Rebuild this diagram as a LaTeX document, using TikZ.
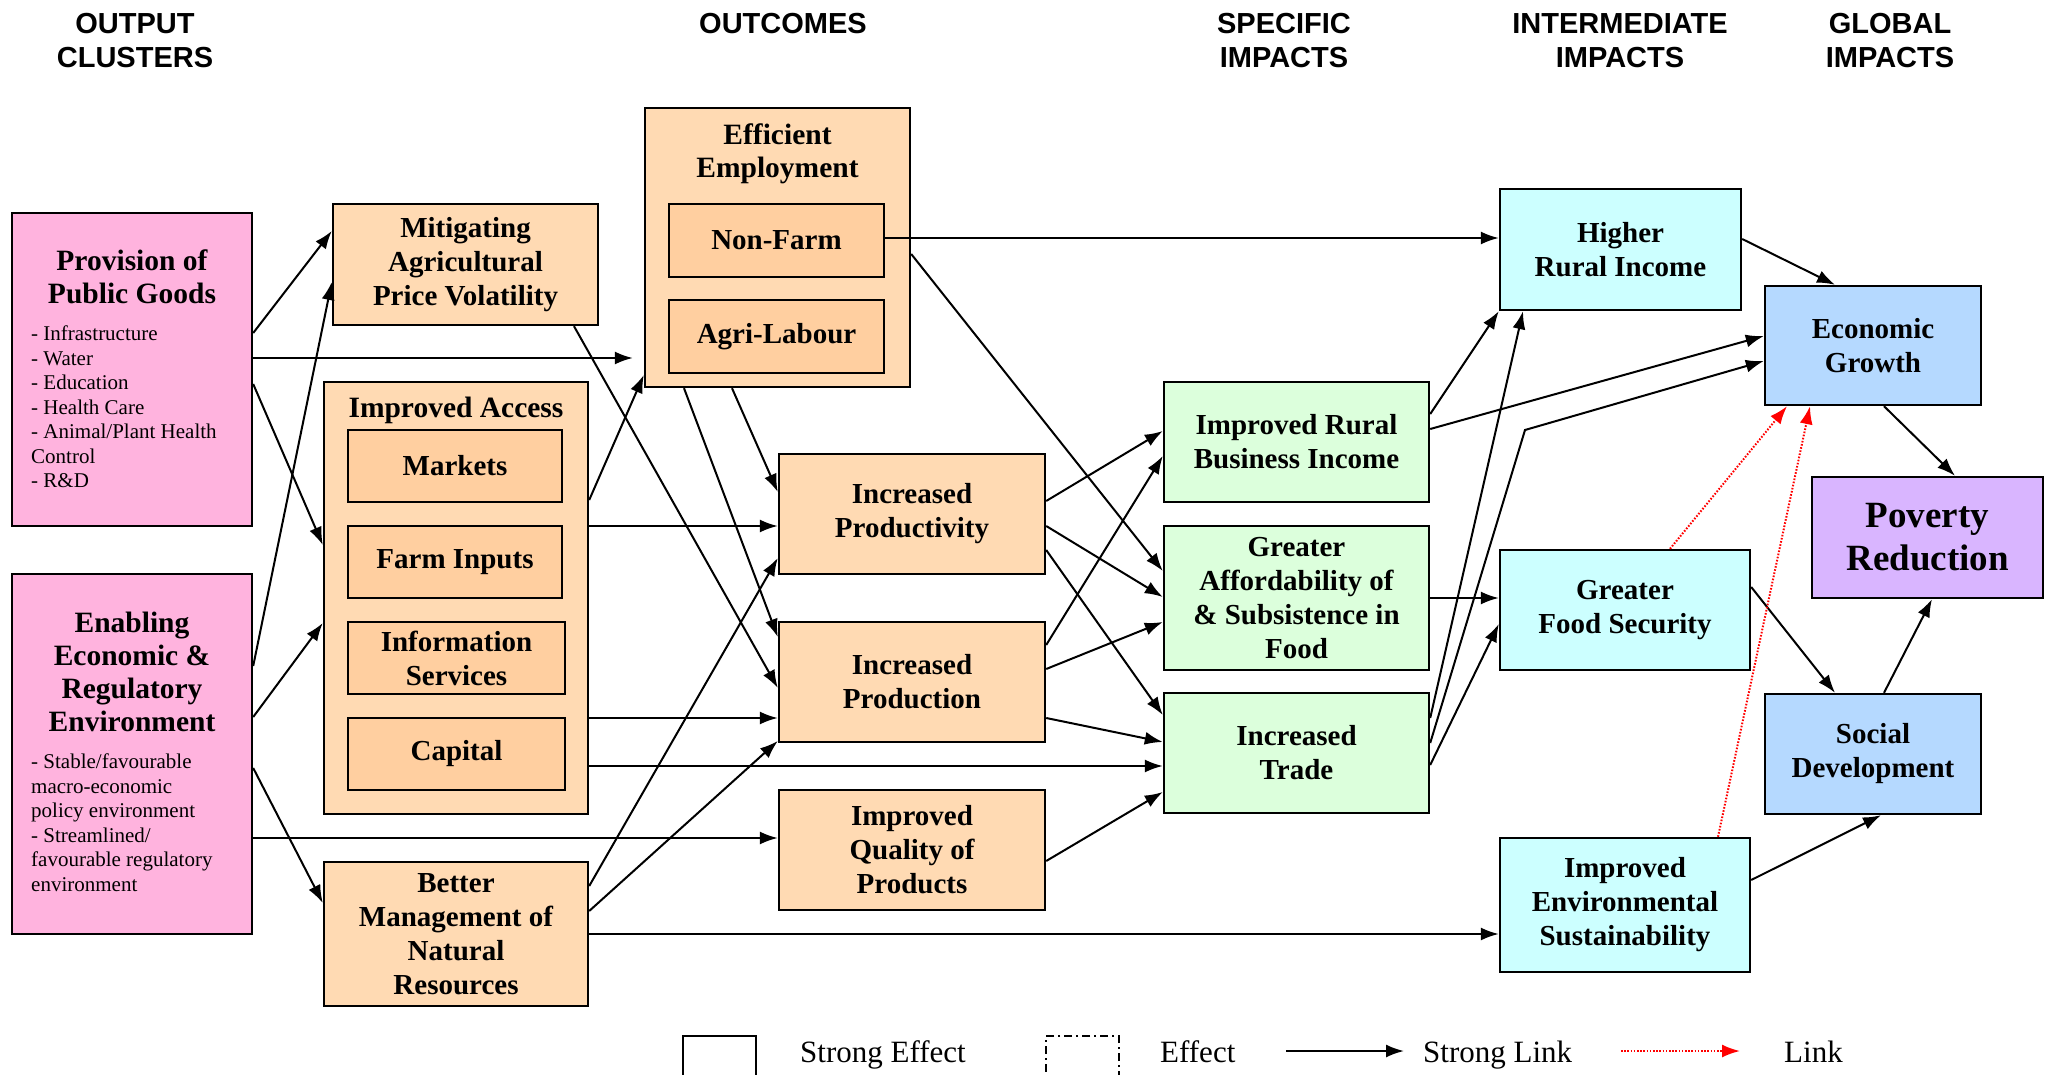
\documentclass[tikz,border=0pt]{standalone}
\usepackage{fontspec}
\setmainfont{Liberation Serif}
\newfontfamily\headfont{Liberation Sans}
\usetikzlibrary{arrows.meta}
\definecolor{pinkbox}{RGB}{255,179,222}
\definecolor{peach}{RGB}{255,218,179}
\definecolor{peachdark}{RGB}{255,207,160}
\definecolor{mint}{RGB}{220,255,220}
\definecolor{aqua}{RGB}{204,255,255}
\definecolor{skyblue}{RGB}{181,217,255}
\definecolor{lilac}{RGB}{217,181,255}

\begin{document}
\begin{tikzpicture}[x=1pt,y=-1pt,dim/.style 2 args={minimum width=#1pt,minimum height=#2pt}]
            \tikzstyle{cell}=[draw=black,line width=2.4pt,inner sep=0pt,align=center,font=\bfseries\fontsize{29}{34}\selectfont]
            \tikzstyle{boxtext}=[inner sep=0pt,align=center,font=\bfseries\fontsize{29.5}{33}\selectfont]
            \tikzstyle{listtext}=[anchor=north west,inner sep=0pt,align=left,font=\fontsize{21}{24.5}\selectfont]
            \tikzstyle{heading}=[anchor=north,inner sep=0pt,align=center,font=\headfont\bfseries\fontsize{29}{34}\selectfont]
            \tikzstyle{legendtext}=[anchor=base west,inner sep=0pt,font=\fontsize{31}{36}\selectfont]
            \tikzstyle{link}=[line width=2pt,-{Latex[length=18pt,width=13pt]}]
            \tikzstyle{weaklink}=[red,line width=2pt,dash pattern=on 1.6pt off 1.6pt,-{Latex[length=18pt,width=13pt]}]

            \useasboundingbox (0,0) rectangle (2054,1075);
            \clip (0,0) rectangle (2054,1075);

            \foreach \nm/\x/\txt in {hout/135/{OUTPUT\\CLUSTERS}, hoc/783/{OUTCOMES}, hspec/1284/{SPECIFIC\\IMPACTS}, hint/1620/{INTERMEDIATE\\IMPACTS}, hglob/1890/{GLOBAL\\IMPACTS}}
                \node[heading] (\nm) at (\x,13) {\txt};

            % output clusters
            \node[cell,fill=pinkbox,dim={240}{313}] (ppg) at (132,369.5) {};
            \node[boxtext] (ppgtitle) at (132,277) {Provision of\\Public Goods};
            \node[listtext] (ppglist) at (31,326) {- Infrastructure\\- Water\\- Education\\- Health Care\\- Animal/Plant Health\\Control\\- R\&D};
            \node[cell,fill=pinkbox,dim={240}{360}] (eere) at (132,754) {};
            \node[boxtext] (eeretitle) at (132,672) {Enabling\\Economic \&\\Regulatory\\Environment};
            \node[listtext] (eerelist) at (31,754) {- Stable/favourable\\macro-economic\\policy environment\\- Streamlined/\\favourable regulatory\\environment};

            % outcomes
            \node[cell,fill=peach,dim={265}{121}] (mapv) at (465.5,264.5) {Mitigating\\Agricultural\\Price Volatility};
            \node[cell,fill=peach,dim={264}{432}] (ia) at (456,598) {};
            \node[boxtext] (iatitle) at (456,410) {Improved Access};
            \node[cell,fill=peachdark,dim={214}{72}] (markets) at (455,466) {Markets};
            \node[cell,fill=peachdark,dim={214}{72}] (farm) at (455,562) {Farm Inputs};
            \node[cell,fill=peachdark,dim={217}{72}] (info) at (456.5,658) {Information\\Services};
            \node[cell,fill=peachdark,dim={217}{72}] (capital) at (456.5,754) {Capital};
            \node[cell,fill=peach,dim={264}{144}] (bmnr) at (456,934) {Better\\Management of\\Natural\\Resources};
            \node[cell,fill=peach,dim={265}{279}] (ee) at (777.5,247.5) {};
            \node[boxtext] (eetitle) at (777.5,154) {Efficient\\Employment};
            \node[cell,fill=peachdark,dim={215}{73}] (nonfarm) at (776.5,240.5) {Non-Farm};
            \node[cell,fill=peachdark,dim={215}{73}] (agri) at (776.5,336.5) {Agri-Labour};
            \node[cell,fill=peach,dim={266}{120}] (iprod) at (912,514) {Increased\\Productivity};
            \node[cell,fill=peach,dim={266}{120}] (iprodn) at (912,682) {Increased\\Production};
            \node[cell,fill=peach,dim={266}{120}] (iqp) at (912,850) {Improved\\Quality of\\Products};

            % specific impacts
            \node[cell,fill=mint,dim={265}{120}] (irbi) at (1296.5,442) {Improved Rural\\Business Income};
            \node[cell,fill=mint,dim={265}{144}] (gas) at (1296.5,598) {Greater\\Affordability of\\\& Subsistence in\\Food};
            \node[cell,fill=mint,dim={265}{120}] (it) at (1296.5,753) {Increased\\Trade};

            % intermediate and global impacts
            \node[cell,fill=aqua,dim={241}{121}] (hri) at (1620.5,249.5) {Higher\\Rural Income};
            \node[cell,fill=aqua,dim={250}{120}] (gfs) at (1625,610) {Greater\\Food Security};
            \node[cell,fill=aqua,dim={250}{134}] (ies) at (1625,905) {Improved\\Environmental\\Sustainability};
            \node[cell,fill=skyblue,dim={216}{119}] (eg) at (1873,345.5) {Economic\\Growth};
            \node[cell,fill=lilac,dim={231}{121},font=\bfseries\fontsize{37}{43}\selectfont] (pr) at (1927.5,537.5) {Poverty\\Reduction};
            \node[cell,fill=skyblue,dim={216}{120}] (sd) at (1873,754) {Social\\Development};

            \foreach \a/\ya/\b/\yb in {ppg/333/mapv/231, ppg/384/ia/545, eere/666/mapv/282, eere/717/ia/623, eere/838/iqp/838, eere/768/bmnr/903, ia/526/iprod/526, ia/718/iprodn/718, ia/766/it/766, ia/500/ee/375, bmnr/886/iprod/558, bmnr/911/iprodn/741, bmnr/934/ies/934, nonfarm/238/hri/238, ee/254/gas/571, iprod/501/irbi/431, iprod/526/gas/597, iprod/550/it/715, iprodn/645/irbi/456, iprodn/669/gas/622, iprodn/718/it/742, iqp/861/it/792, irbi/429/eg/336, gas/598/gfs/598, it/765/gfs/624}
                \draw[link] (\a.east |- 0,\ya) -- (\b.west |- 0,\yb);

            \draw[link,shorten >=11pt] (ppg.east |- 0,358) -- (ee.west |- 0,358);
            \draw[link] (mapv.south -| 574,0) -- (iprodn.west |- 0,688);
            \draw[link] (ee.south -| 684,0) -- (iprodn.west |- 0,637);
            \draw[link] (ee.south -| 732,0) -- (iprod.west |- 0,492);
            \draw[link] (irbi.east |- 0,414) -- (hri.south west);
            \draw[link] (it.east |- 0,718) -- (hri.south -| 1523,0);
            \draw[link] (it.east |- 0,743) -- (1525,430) -- (eg.west |- 0,361);
            \draw[link] (hri.east |- 0,239) -- (eg.north -| 1835,0);
            \draw[link] (eg.south -| 1884,0) -- (pr.north -| 1955,0);
            \draw[link] (sd.north -| 1884,0) -- (pr.south -| 1932,0);
            \draw[link] (gfs.east |- 0,587) -- (sd.north -| 1835,0);
            \draw[link] (ies.east |- 0,880) -- (sd.south -| 1881,0);
            \draw[weaklink] (gfs.north -| 1670,0) -- (eg.south -| 1787,0);
            \draw[weaklink] (ies.north -| 1718,0) -- (eg.south -| 1810,0);

            % legend
            \node[draw=black,fill=white,line width=2.4pt,dim={73}{60}] (strongbox) at (719.5,1066) {};
            \node[legendtext] (strongtxt) at (800,1062) {Strong Effect};
            \node[draw=black,line width=2pt,dash pattern=on 8pt off 4pt on 2pt off 4pt,dim={73}{60}] (effbox) at (1082.5,1066) {};
            \node[legendtext] (efftxt) at (1160,1062) {Effect};
            \coordinate (sl1) at (1286,1051);
            \coordinate (sl2) at (1404,1051);
            \draw[link] (sl1) -- (sl2);
            \node[legendtext] (sltxt) at (1423,1062) {Strong Link};
            \coordinate (wl1) at (1621,1051);
            \coordinate (wl2) at (1740,1051);
            \draw[weaklink] (wl1) -- (wl2);
            \node[legendtext] (wltxt) at (1784,1062) {Link};
        \end{tikzpicture}
\end{document}
